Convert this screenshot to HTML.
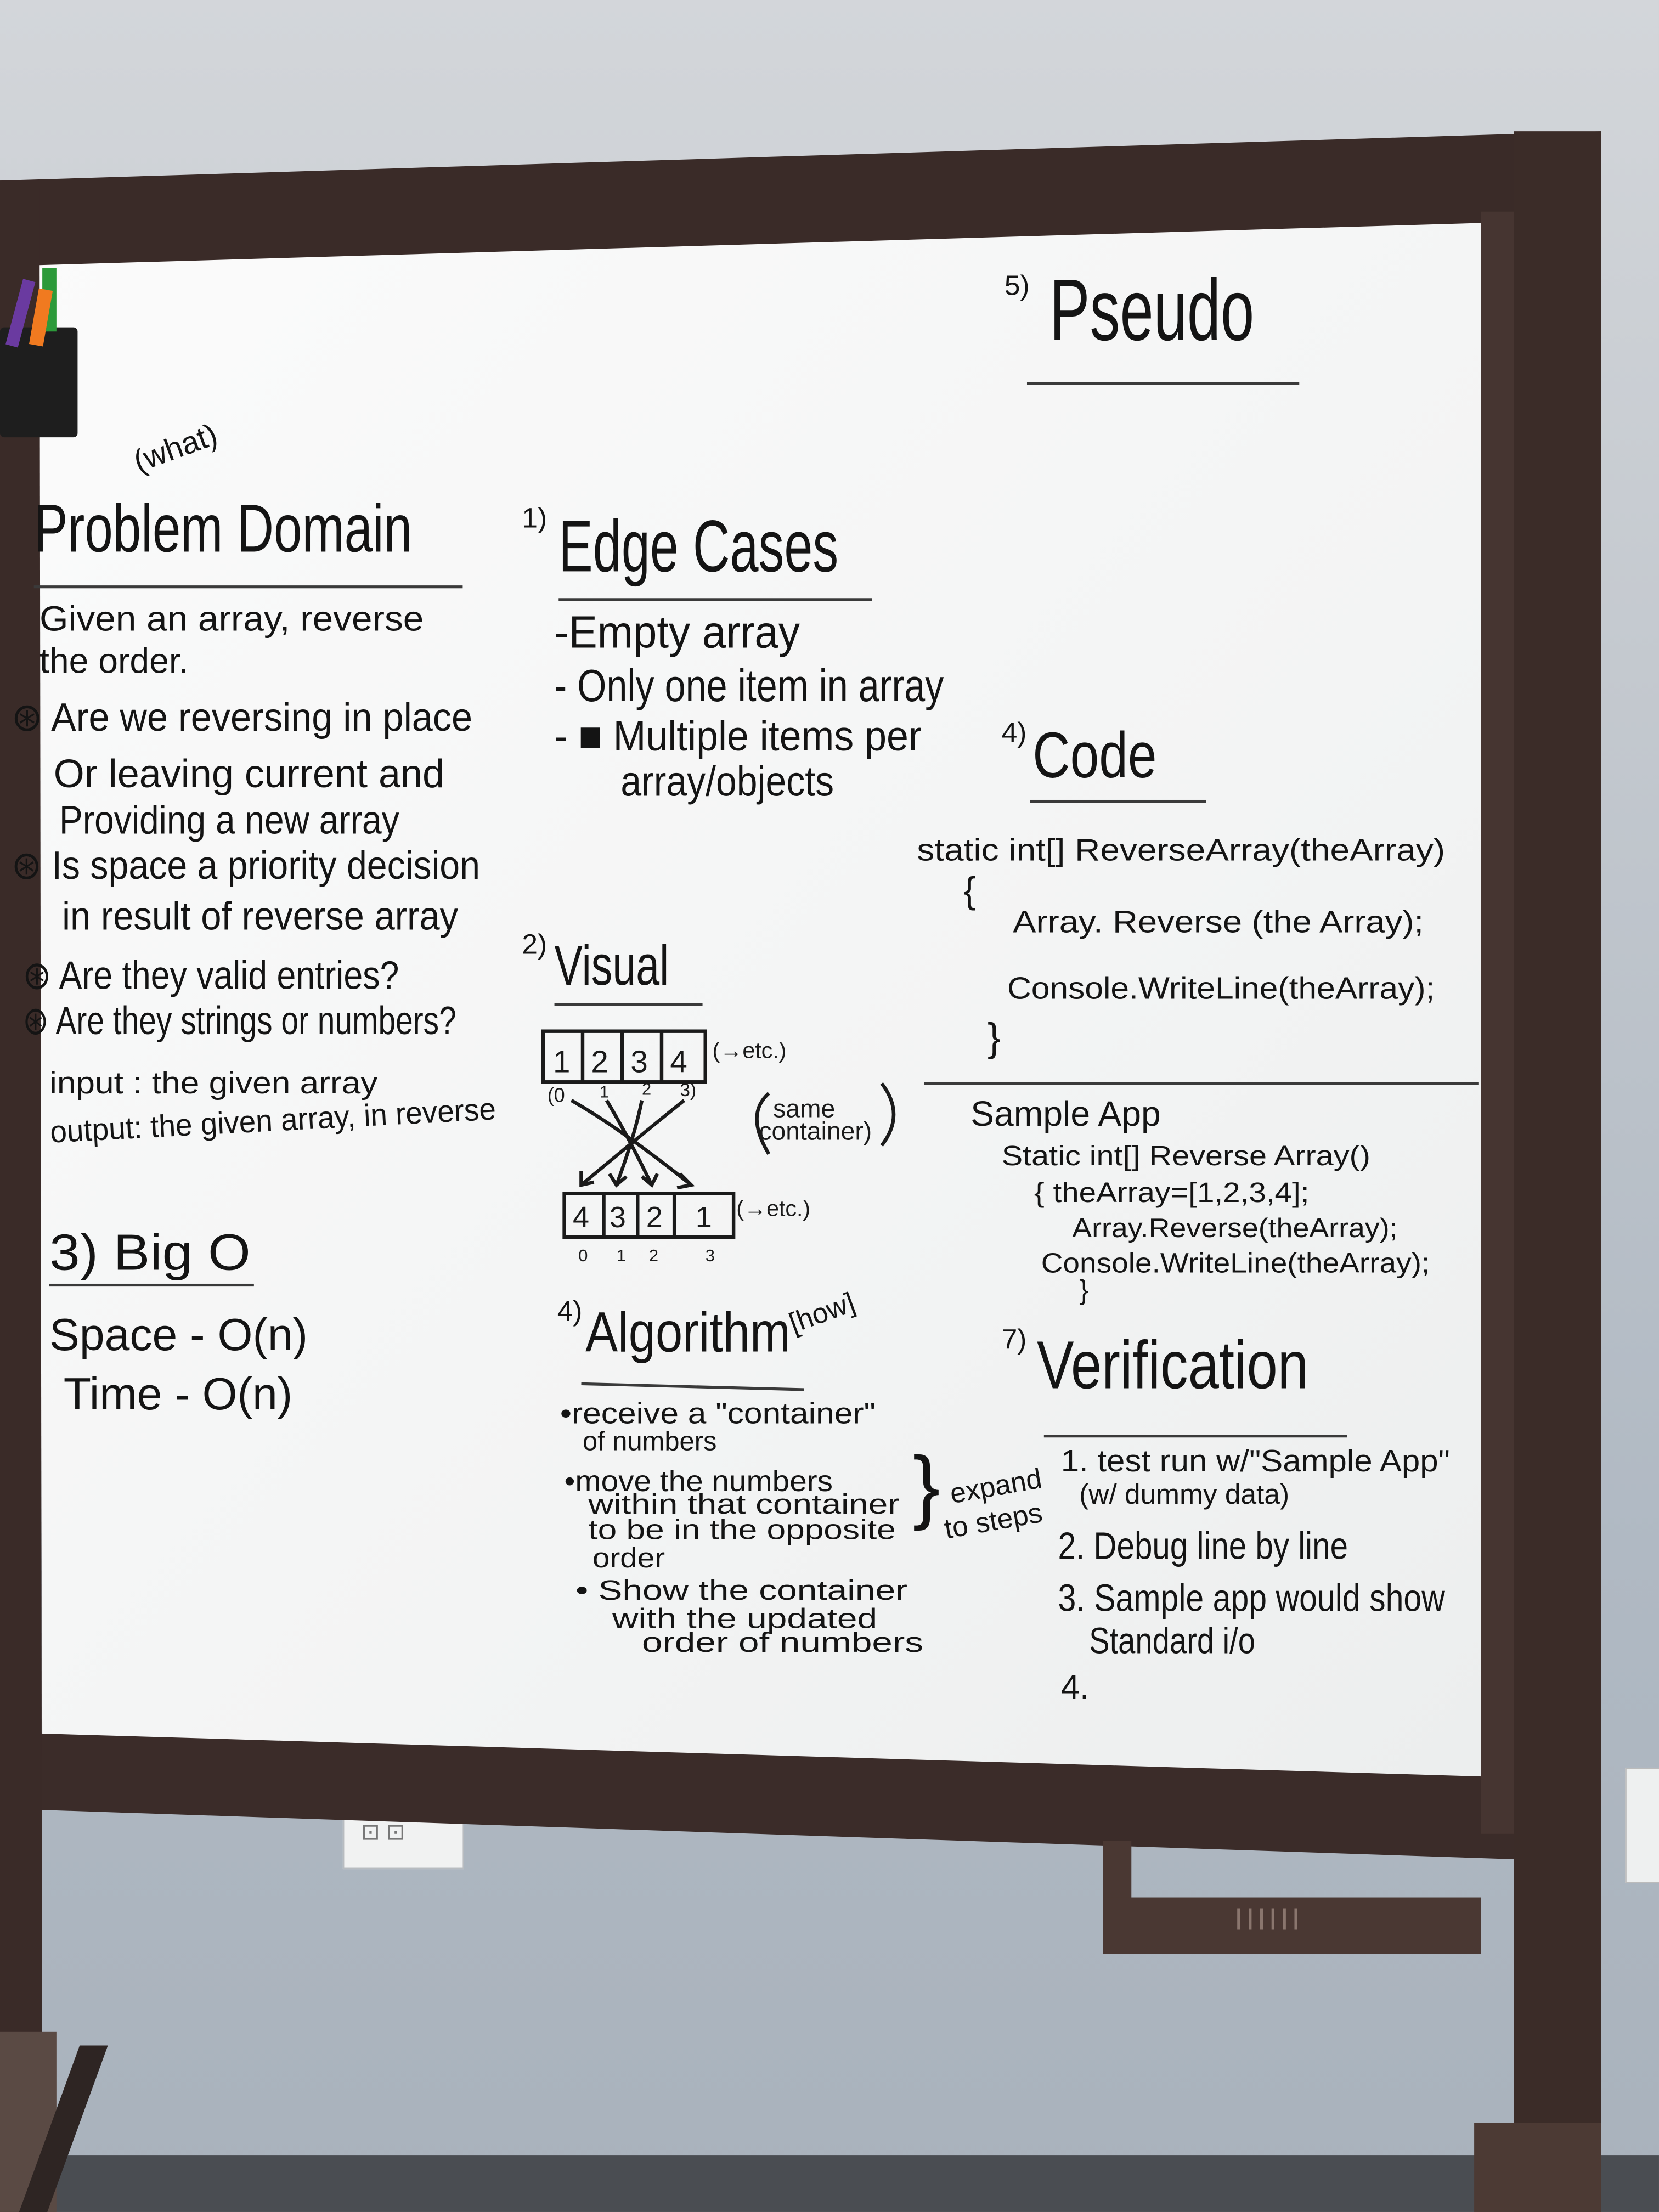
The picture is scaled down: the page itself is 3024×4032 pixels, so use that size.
<!DOCTYPE html>
<html><head><meta charset="utf-8"><style>
html,body{margin:0;padding:0;}
body{width:3024px;height:4032px;overflow:hidden;position:relative;background:#b4bcc6;}
#s{position:absolute;left:0;top:0;width:1176px;height:1568px;transform:scale(2.5714);transform-origin:0 0;
background:linear-gradient(180deg,#d3d6da 0%,#c4c9cf 30%,#b0b9c3 70%,#a9b2bc 100%);overflow:hidden;}
.a{position:absolute;white-space:nowrap;font-family:"Liberation Sans",sans-serif;color:#141414;line-height:1;transform-origin:0 0;}
.u{position:absolute;height:2px;background:#3a3a3a;}
</style></head><body><div id="s">
<div style="position:absolute;left:0;top:1528px;width:1176px;height:40px;background:#4a4d52"></div>
<div style="position:absolute;left:1152px;top:1253px;width:30px;height:80px;background:#eef0f0;border:1px solid #bbb"></div>
<div style="position:absolute;left:243px;top:1286px;width:84px;height:37px;background:#f1f2f2;border:1px solid #b8bcc0"></div>
<div class="a" style="left:256px;top:1292px;font-size:16px;color:#777">⊡ ⊡</div>
<svg style="position:absolute;left:0;top:0" width="1176" height="1568">
<defs><linearGradient id="wb" x1="0" y1="0" x2="1" y2="1"><stop offset="0" stop-color="#fbfbfb"/><stop offset="0.6" stop-color="#f3f4f4"/><stop offset="1" stop-color="#eceeee"/></linearGradient></defs>
<polygon points="0,128 1135,93 1135,160 0,190" fill="#3a2b28"/>
<polygon points="26,188 1052,158 1052,1262 30,1230" fill="url(#wb)"/>
<polygon points="0,1228 1075,1260 1075,1318 0,1282" fill="#3b2c29"/>
<rect x="1050" y="150" width="25" height="1150" fill="#463531"/>
<rect x="1073" y="93" width="62" height="1475" fill="#3b2c28"/>
<polygon points="0,128 28,128 30,1568 0,1568" fill="#3a2b28"/>
</svg>
<div style="position:absolute;left:782px;top:1305px;width:20px;height:50px;background:#4a3833"></div>
<div style="position:absolute;left:782px;top:1345px;width:268px;height:40px;background:#4a3833"></div>
<div class="a" style="left:875px;top:1350px;font-size:22px;color:#8a766e;letter-spacing:2px">IIIIII</div>
<div style="position:absolute;left:0;top:1440px;width:40px;height:128px;background:#5a4a44"></div>
<div style="position:absolute;left:35px;top:1450px;width:20px;height:118px;background:#2e2523;transform:skewX(-20deg)"></div>
<div style="position:absolute;left:1045px;top:1505px;width:90px;height:63px;background:#4c3a34"></div>
<div style="position:absolute;left:0;top:232px;width:55px;height:78px;background:#1e1e1e;border-radius:3px"></div>
<div style="position:absolute;left:10px;top:198px;width:9px;height:48px;background:#6a3aa0;transform:rotate(15deg)"></div>
<div style="position:absolute;left:30px;top:190px;width:10px;height:45px;background:#2c9a3a"></div>
<div style="position:absolute;left:24px;top:205px;width:10px;height:40px;background:#f07a20;transform:rotate(10deg)"></div>

<div class="a" style="left:712px;top:193px;font-size:20px">5)</div>
<div class="a" style="left:744px;top:190px;font-size:62px;transform:scaleX(.69)">Pseudo</div>
<div class="u" style="left:728px;top:271px;width:193px"></div>

<div class="a" style="left:92px;top:318px;font-size:22px;transform:rotate(-20deg)">(what)</div>
<div class="a" style="left:24px;top:352px;font-size:48px;transform:scaleX(.75)">Problem Domain</div>
<div class="u" style="left:24px;top:415px;width:304px"></div>
<div class="a" style="left:28px;top:427px;font-size:25px;transform:scaleX(1.05)">Given an array, reverse</div>
<div class="a" style="left:28px;top:457px;font-size:25px">the order.</div>
<div class="a" style="left:8px;top:495px;font-size:28px;transform:scaleX(.95)">⊛ Are we reversing in place</div>
<div class="a" style="left:38px;top:535px;font-size:28px">Or leaving current and</div>
<div class="a" style="left:42px;top:568px;font-size:28px;transform:scaleX(.89)">Providing a new array</div>
<div class="a" style="left:8px;top:600px;font-size:28px;transform:scaleX(.92)">⊛ Is space a priority decision</div>
<div class="a" style="left:44px;top:636px;font-size:28px;transform:scaleX(.93)">in result of reverse array</div>
<div class="a" style="left:16px;top:678px;font-size:28px;transform:scaleX(.87)">⊛ Are they valid entries?</div>
<div class="a" style="left:16px;top:710px;font-size:28px;transform:scaleX(.79)">⊛ Are they strings or numbers?</div>
<div class="a" style="left:35px;top:757px;font-size:22px;transform:scaleX(1.1)">input : the given array</div>
<div class="a" style="left:35px;top:792px;font-size:22px;transform:rotate(-3deg) scaleX(.97)">output: the given array, in reverse</div>

<div class="a" style="left:35px;top:870px;font-size:36px;transform:scaleX(1.08)">3) Big O</div>
<div class="u" style="left:35px;top:910px;width:145px"></div>
<div class="a" style="left:35px;top:930px;font-size:32px">Space - O(n)</div>
<div class="a" style="left:45px;top:972px;font-size:32px">Time - O(n)</div>

<div class="a" style="left:370px;top:358px;font-size:20px">1)</div>
<div class="a" style="left:396px;top:362px;font-size:52px;transform:scaleX(.7)">Edge Cases</div>
<div class="u" style="left:396px;top:424px;width:222px"></div>
<div class="a" style="left:393px;top:432px;font-size:32px;transform:scaleX(.95)">-Empty array</div>
<div class="a" style="left:393px;top:470px;font-size:32px;transform:scaleX(.83)">- Only one item in array</div>
<div class="a" style="left:393px;top:508px;font-size:30px;transform:scaleX(.93)">- ■ Multiple items per</div>
<div class="a" style="left:440px;top:540px;font-size:30px;transform:scaleX(.88)">array/objects</div>

<div class="a" style="left:710px;top:510px;font-size:20px">4)</div>
<div class="a" style="left:732px;top:512px;font-size:46px;transform:scaleX(.8)">Code</div>
<div class="u" style="left:730px;top:567px;width:125px"></div>
<div class="a" style="left:650px;top:592px;font-size:22px;transform:scaleX(1.13)">static int[] ReverseArray(theArray)</div>
<div class="a" style="left:683px;top:618px;font-size:26px">{</div>
<div class="a" style="left:718px;top:643px;font-size:22px;transform:scaleX(1.12)">Array. Reverse (the Array);</div>
<div class="a" style="left:714px;top:690px;font-size:22px;transform:scaleX(1.07)">Console.WriteLine(theArray);</div>
<div class="a" style="left:700px;top:722px;font-size:28px">}</div>
<div class="u" style="left:655px;top:767px;width:393px"></div>

<div class="a" style="left:688px;top:778px;font-size:25px">Sample App</div>
<div class="a" style="left:710px;top:810px;font-size:20px;transform:scaleX(1.12)">Static int[] Reverse Array()</div>
<div class="a" style="left:733px;top:836px;font-size:20px;transform:scaleX(1.1)">{ theArray=[1,2,3,4];</div>
<div class="a" style="left:760px;top:862px;font-size:19px;transform:scaleX(1.1)">Array.Reverse(theArray);</div>
<div class="a" style="left:738px;top:886px;font-size:20px;transform:scaleX(1.07)">Console.WriteLine(theArray);</div>
<div class="a" style="left:765px;top:905px;font-size:20px">}</div>

<div class="a" style="left:370px;top:660px;font-size:20px">2)</div>
<div class="a" style="left:393px;top:665px;font-size:40px;transform:scaleX(.75)">Visual</div>
<div class="u" style="left:393px;top:711px;width:105px"></div>
<svg style="position:absolute;left:380px;top:725px" width="260" height="175" viewBox="380 725 260 175">
<g fill="none" stroke="#1a1a1a" stroke-width="2.5">
<rect x="385" y="731" width="115" height="36"/>
<line x1="413" y1="731" x2="413" y2="767"/><line x1="441" y1="731" x2="441" y2="767"/><line x1="469" y1="731" x2="469" y2="767"/>
<rect x="400" y="846" width="120" height="31"/>
<line x1="428" y1="846" x2="428" y2="877"/><line x1="452" y1="846" x2="452" y2="877"/><line x1="478" y1="846" x2="478" y2="877"/>
<path d="M405 780 Q440 800 490 840"/><path d="M430 780 Q445 805 462 840"/><path d="M455 780 Q450 805 437 840"/><path d="M485 780 Q460 800 412 840"/>
<path d="M482 832 L490 840 L480 842"/><path d="M455 834 L462 840 L466 832"/><path d="M432 832 L437 840 L444 834"/><path d="M412 830 L412 840 L421 838"/>
<path d="M545 775 Q528 790 545 818"/><path d="M625 768 Q642 790 625 812"/>
</g>
<g font-family="Liberation Sans" fill="#1a1a1a">
<text x="392" y="760" font-size="22">1</text><text x="419" y="760" font-size="22">2</text><text x="447" y="760" font-size="22">3</text><text x="475" y="760" font-size="22">4</text>
<text x="505" y="750" font-size="16">(→etc.)</text>
<text x="388" y="781" font-size="14">(0</text><text x="425" y="778" font-size="12">1</text><text x="455" y="776" font-size="12">2</text><text x="482" y="777" font-size="13">3)</text>
<text x="406" y="870" font-size="21">4</text><text x="432" y="870" font-size="21">3</text><text x="458" y="870" font-size="21">2</text><text x="493" y="870" font-size="21">1</text>
<text x="522" y="862" font-size="16">(→etc.)</text>
<text x="410" y="894" font-size="12">0</text><text x="437" y="894" font-size="12">1</text><text x="460" y="894" font-size="12">2</text><text x="500" y="894" font-size="12">3</text>
<text x="548" y="792" font-size="18">same</text><text x="538" y="808" font-size="18">container)</text>
</g></svg>

<div class="a" style="left:395px;top:920px;font-size:20px">4)</div>
<div class="a" style="left:415px;top:925px;font-size:40px;transform:scaleX(.86)">Algorithm</div>
<div class="a" style="left:557px;top:930px;font-size:20px;transform:rotate(-20deg)">[how]</div>
<div class="u" style="left:412px;top:982px;width:158px;transform:rotate(1.5deg)"></div>
<div class="a" style="left:397px;top:992px;font-size:21px;transform:scaleX(1.12)">•receive a "container"</div>
<div class="a" style="left:413px;top:1013px;font-size:19px">of numbers</div>
<div class="a" style="left:400px;top:1040px;font-size:21px;transform:scaleX(1.05)">•move the numbers</div>
<div class="a" style="left:417px;top:1057px;font-size:20px;transform:scaleX(1.24)">within that container</div>
<div class="a" style="left:417px;top:1075px;font-size:20px;transform:scaleX(1.21)">to be in the opposite</div>
<div class="a" style="left:420px;top:1095px;font-size:20px;transform:scaleX(1.1)">order</div>
<div class="a" style="left:408px;top:1118px;font-size:20px;transform:scaleX(1.28)">• Show the container</div>
<div class="a" style="left:434px;top:1138px;font-size:20px;transform:scaleX(1.28)">with the updated</div>
<div class="a" style="left:455px;top:1155px;font-size:20px;transform:scaleX(1.31)">order of numbers</div>
<div class="a" style="left:647px;top:1025px;font-size:58px;font-weight:100">}</div>
<div class="a" style="left:672px;top:1050px;font-size:20px;transform:rotate(-10deg)">expand</div>
<div class="a" style="left:668px;top:1075px;font-size:20px;transform:rotate(-10deg)">to steps</div>

<div class="a" style="left:710px;top:940px;font-size:20px">7)</div>
<div class="a" style="left:735px;top:945px;font-size:48px;transform:scaleX(.82)">Verification</div>
<div class="u" style="left:740px;top:1017px;width:215px"></div>
<div class="a" style="left:752px;top:1025px;font-size:22px;transform:scaleX(1.06)">1. test run w/"Sample App"</div>
<div class="a" style="left:765px;top:1050px;font-size:20px">(w/ dummy data)</div>
<div class="a" style="left:750px;top:1083px;font-size:27px;transform:scaleX(.84)">2. Debug line by line</div>
<div class="a" style="left:750px;top:1120px;font-size:27px;transform:scaleX(.85)">3. Sample app would show</div>
<div class="a" style="left:772px;top:1150px;font-size:26px;transform:scaleX(.84)">Standard i/o</div>
<div class="a" style="left:752px;top:1185px;font-size:24px">4.</div>
</div></body></html>
